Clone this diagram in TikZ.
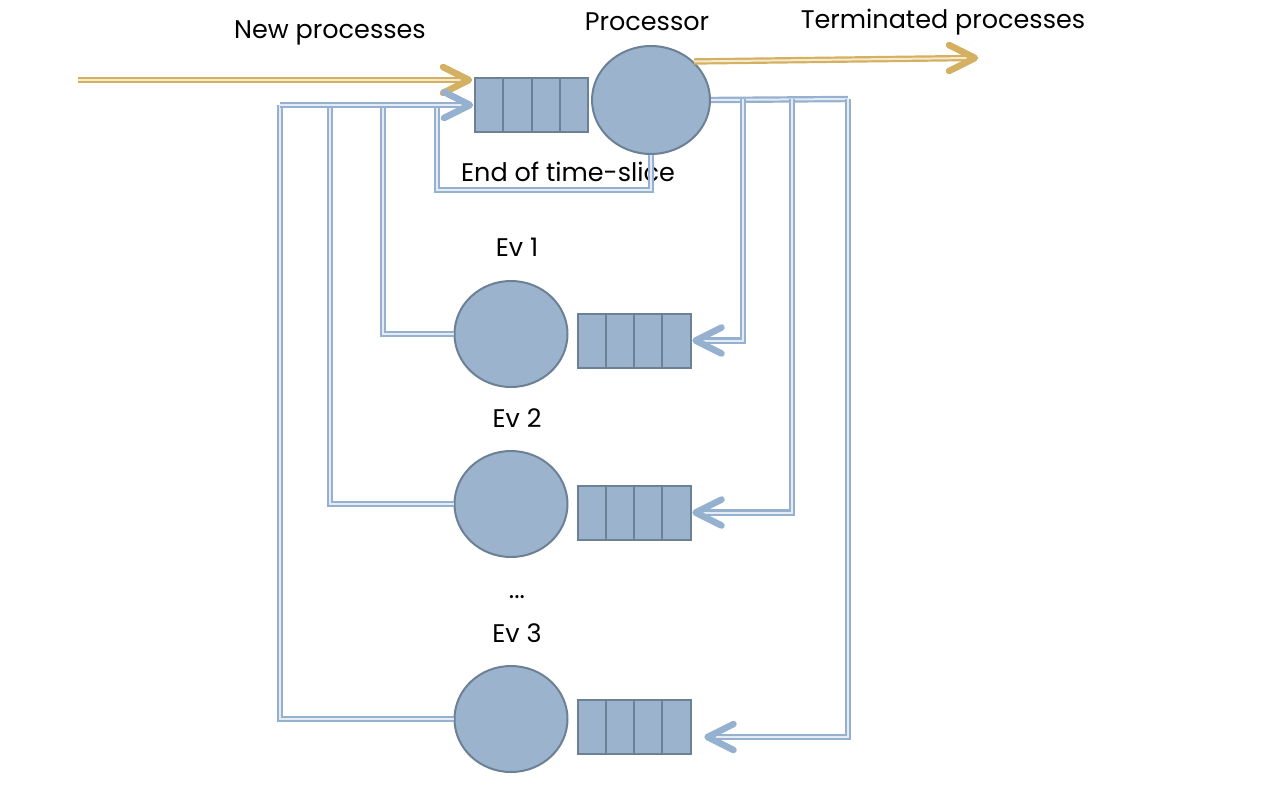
\documentclass[tikz,border=0pt]{standalone}
\usepackage{fontspec}
\setmainfont{Poppins}
\usetikzlibrary{shapes.geometric,calc}
\definecolor{nodefill}{RGB}{155,179,204}
\definecolor{nodeline}{RGB}{108,128,150}
\definecolor{blline}{RGB}{150,177,208}
\definecolor{blin}{RGB}{228,235,244}
\definecolor{gdline}{RGB}{212,176,98}
\definecolor{gdin}{RGB}{246,234,205}
\begin{document}
\begin{tikzpicture}[x=1pt,y=-1pt,
  queue/.style={draw=nodeline, fill=nodefill, line width=2pt, minimum width=113pt, minimum height=54pt, inner sep=0pt,
    path picture={\foreach \i in {0.25,0.5,0.75}
      \draw[nodeline, line width=2pt] ($(path picture bounding box.north west)!\i!(path picture bounding box.north east)$) -- ($(path picture bounding box.south west)!\i!(path picture bounding box.south east)$);}},
  server/.style={ellipse, draw=nodeline, fill=nodefill, line width=2pt, minimum width=113pt, minimum height=106pt, inner sep=0pt},
  bl/.style={draw=blline, double=blin, double distance=2pt, line width=2.2pt},
  gd/.style={draw=gdline, double=gdin, double distance=2pt, line width=2.2pt},
  bltip/.style={draw=blline, line width=6.5pt, line cap=round, line join=round},
  gdtip/.style={draw=gdline, line width=6.5pt, line cap=round, line join=round},
  lbl/.style={font=\fontsize{25.5}{30}\selectfont, inner sep=0pt}
]
\useasboundingbox (0,0) rectangle (1278,788);
% nodes
\node[queue] (pq) at (531.5,105) {};
\node[server, minimum width=118pt, minimum height=108pt] (proc) at (651,100) {};
\node[server] (ev1) at (511,334) {};
\node[queue] (ev1q) at (634,340.5) {};
\node[server] (ev2) at (511,504) {};
\node[queue] (ev2q) at (634,512.5) {};
\node[server] (ev3) at (511,719) {};
\node[queue] (ev3q) at (634,727) {};
% labels
\node[lbl] (tnew) at (330,33) {New processes};
\node[lbl] (tproc) at (647,22) {Processor};
\node[lbl] (tterm) at (943,22) {Terminated processes};
\node[lbl] (tslice) at (568,172) {End of time-slice};
\node[lbl] (tev1) at (517,247) {Ev 1};
\node[lbl] (tev2) at (517,418) {Ev 2};
\node[lbl] (tdots) at (517,597) {...};
\node[lbl] (tev3) at (517,633) {Ev 3};
% coordinates
\coordinate (newin) at (78,80);
\coordinate (termout) at (975,58);
\coordinate (L1) at (383,105);
\coordinate (L2) at (330,105);
\coordinate (L3) at (280,105);
\coordinate (T) at (437,105);
\coordinate (TS) at (437,190);
\coordinate (R1) at (743,99);
\coordinate (R2) at (792,99);
\coordinate (R3) at (848,99);
\coordinate (pin) at ([shift={(-5,3)}]pq.north west);
\coordinate (pqin) at ([xshift=-4pt]pq.west);
\coordinate (e1in) at ([xshift=4pt]ev1q.east);
\coordinate (e2in) at ([xshift=4pt]ev2q.east);
\coordinate (e3in) at ([shift={(16,10)}]ev3q.east);
% connectors
\draw[gd] (newin) -- ([xshift=-4pt]pin);
\draw[gdtip] ([shift={(-26,-13)}]pin) -- (pin) -- ([shift={(-26,13)}]pin);
\draw[gd] (proc.42) -- ([xshift=-4pt]termout);
\draw[gdtip] ([shift={(-26,-13)}]termout) -- (termout) -- ([shift={(-26,13)}]termout);
\draw[bl] (ev1.west) -| (L1);
\draw[bl] (ev2.west) -| (L2);
\draw[bl] (ev3.west) -| (L3);
\draw[bl] (proc.south) |- (TS) -- (T);
\draw[bl] (L3) -- ([xshift=-4pt]pqin);
\draw[bltip] ([shift={(-26,-13)}]pqin) -- (pqin) -- ([shift={(-26,13)}]pqin);
\draw[bl] (proc.east) -- (R3);
\draw[bl] (R1) |- ([xshift=4pt]e1in);
\draw[bltip] ([shift={(26,-13)}]e1in) -- (e1in) -- ([shift={(26,13)}]e1in);
\draw[bl] (R2) |- ([xshift=4pt]e2in);
\draw[bltip] ([shift={(26,-13)}]e2in) -- (e2in) -- ([shift={(26,13)}]e2in);
\draw[bl] (R3) |- ([xshift=4pt]e3in);
\draw[bltip] ([shift={(26,-13)}]e3in) -- (e3in) -- ([shift={(26,13)}]e3in);
\end{tikzpicture}
\end{document}
